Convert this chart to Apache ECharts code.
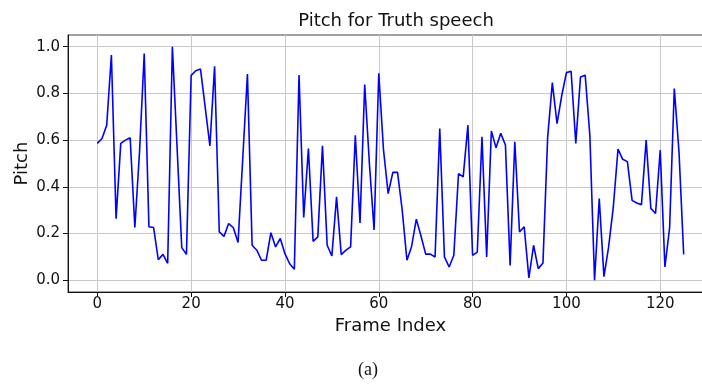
<!DOCTYPE html>
<html>
<head>
<meta charset="utf-8">
<script src="https://cdn.jsdelivr.net/npm/echarts@6/dist/echarts.min.js"></script>
<style>
  html, body { margin: 0; padding: 0; background: #ffffff; overflow: hidden; }
  /* the figure is wider than the page; its right edge is cut off */
  #chart { width: 730px; height: 386px; }
</style>
</head>
<body>
<div id="chart"></div>
<script>
// Pitch contour of the truthful speech sample, one value per frame
const pitch = [
  0.586, 0.607, 0.664, 0.964, 0.264, 0.586, 0.600, 0.610, 0.226, 0.550,
  0.971, 0.229, 0.226, 0.088, 0.111, 0.073, 1.000, 0.570, 0.140, 0.111,
  0.877, 0.897, 0.904, 0.740, 0.575, 0.916, 0.207, 0.188, 0.243, 0.225,
  0.162, 0.520, 0.883, 0.150, 0.129, 0.086, 0.086, 0.204, 0.143, 0.179,
  0.114, 0.071, 0.047, 0.879, 0.269, 0.564, 0.167, 0.186, 0.576, 0.150,
  0.104, 0.357, 0.110, 0.129, 0.143, 0.621, 0.245, 0.838, 0.500, 0.216,
  0.886, 0.560, 0.371, 0.462, 0.462, 0.300, 0.086, 0.145, 0.262, 0.190,
  0.112, 0.112, 0.100, 0.650, 0.100, 0.057, 0.107, 0.457, 0.443, 0.664,
  0.107, 0.121, 0.614, 0.100, 0.639, 0.567, 0.629, 0.579, 0.064, 0.593,
  0.207, 0.229, 0.010, 0.150, 0.050, 0.074, 0.612, 0.846, 0.671, 0.790,
  0.889, 0.895, 0.586, 0.870, 0.878, 0.620, 0.000, 0.350, 0.016, 0.143,
  0.314, 0.562, 0.518, 0.508, 0.342, 0.331, 0.324, 0.600, 0.308, 0.286,
  0.557, 0.057, 0.225, 0.821, 0.550, 0.111
];

// Frame indices 0..N-1
const frames = pitch.map((_, i) => i);

// Tick positions
const xTicks = [0, 20, 40, 60, 80, 100, 120];
const yTicks = [0.0, 0.2, 0.4, 0.6, 0.8, 1.0];

const titleText = 'Pitch for Truth speech';
const xName = 'Frame Index';
const yName = 'Pitch';
const caption = '(a)';

// 5% padding around the data range on both axes
const xPad = (frames[frames.length - 1] - frames[0]) * 0.05;
const yMin = Math.min(...pitch), yMax = Math.max(...pitch);
const yPad = (yMax - yMin) * 0.05;

const font = 'DejaVu Sans';
const ink = '#111111';
const chart = echarts.init(document.getElementById('chart'), null, { renderer: 'canvas' });

chart.setOption({
  animation: false,
  backgroundColor: '#ffffff',
  grid: {
    left: 68, top: 35, width: 645, height: 257,
    show: true, borderColor: '#444444', borderWidth: 1, backgroundColor: 'transparent'
  },
  title: {
    text: titleText,
    left: 391, top: 7, textAlign: 'center',
    textStyle: { fontFamily: font, fontSize: 18, fontWeight: 'normal', color: ink }
  },
  xAxis: {
    type: 'value',
    min: frames[0] - xPad,
    max: frames[frames.length - 1] + xPad,
    name: xName,
    nameLocation: 'middle',
    nameGap: 25,
    nameTextStyle: { fontFamily: font, fontSize: 18, color: ink },
    axisLine: { show: true, onZero: false, lineStyle: { color: ink, width: 1 } },
    axisTick: { show: true, customValues: xTicks, length: 5, lineStyle: { color: ink } },
    axisLabel: {
      customValues: xTicks, margin: 5,
      fontFamily: font, fontSize: 15, color: ink
    },
    splitLine: { show: true, lineStyle: { color: '#c8c8c8', width: 1 } }
  },
  yAxis: {
    type: 'value',
    min: yMin - yPad,
    max: yMax + yPad,
    name: yName,
    nameLocation: 'middle',
    nameGap: 37,
    nameMoveOverlap: false,
    nameRotate: 90,
    nameTextStyle: { fontFamily: font, fontSize: 18, color: ink },
    axisLine: { show: true, onZero: false, lineStyle: { color: ink, width: 1 } },
    axisTick: { show: true, customValues: yTicks, length: 5, lineStyle: { color: ink } },
    axisLabel: {
      customValues: yTicks, margin: 8,
      fontFamily: font, fontSize: 15, color: ink,
      formatter: v => v.toFixed(1)
    },
    splitLine: { show: true, lineStyle: { color: '#c8c8c8', width: 1 } }
  },
  graphic: [{
    type: 'text',
    left: 358, top: 361,
    style: { text: caption, font: '18px "Liberation Serif", serif', fill: ink }
  }],
  series: [{
    type: 'line',
    data: frames.map((f, i) => [f, pitch[i]]),
    showSymbol: false,
    lineStyle: { color: '#0000ff', width: 1.6 },
    itemStyle: { color: '#0000ff' }
  }]
});
</script>
</body>
</html>
